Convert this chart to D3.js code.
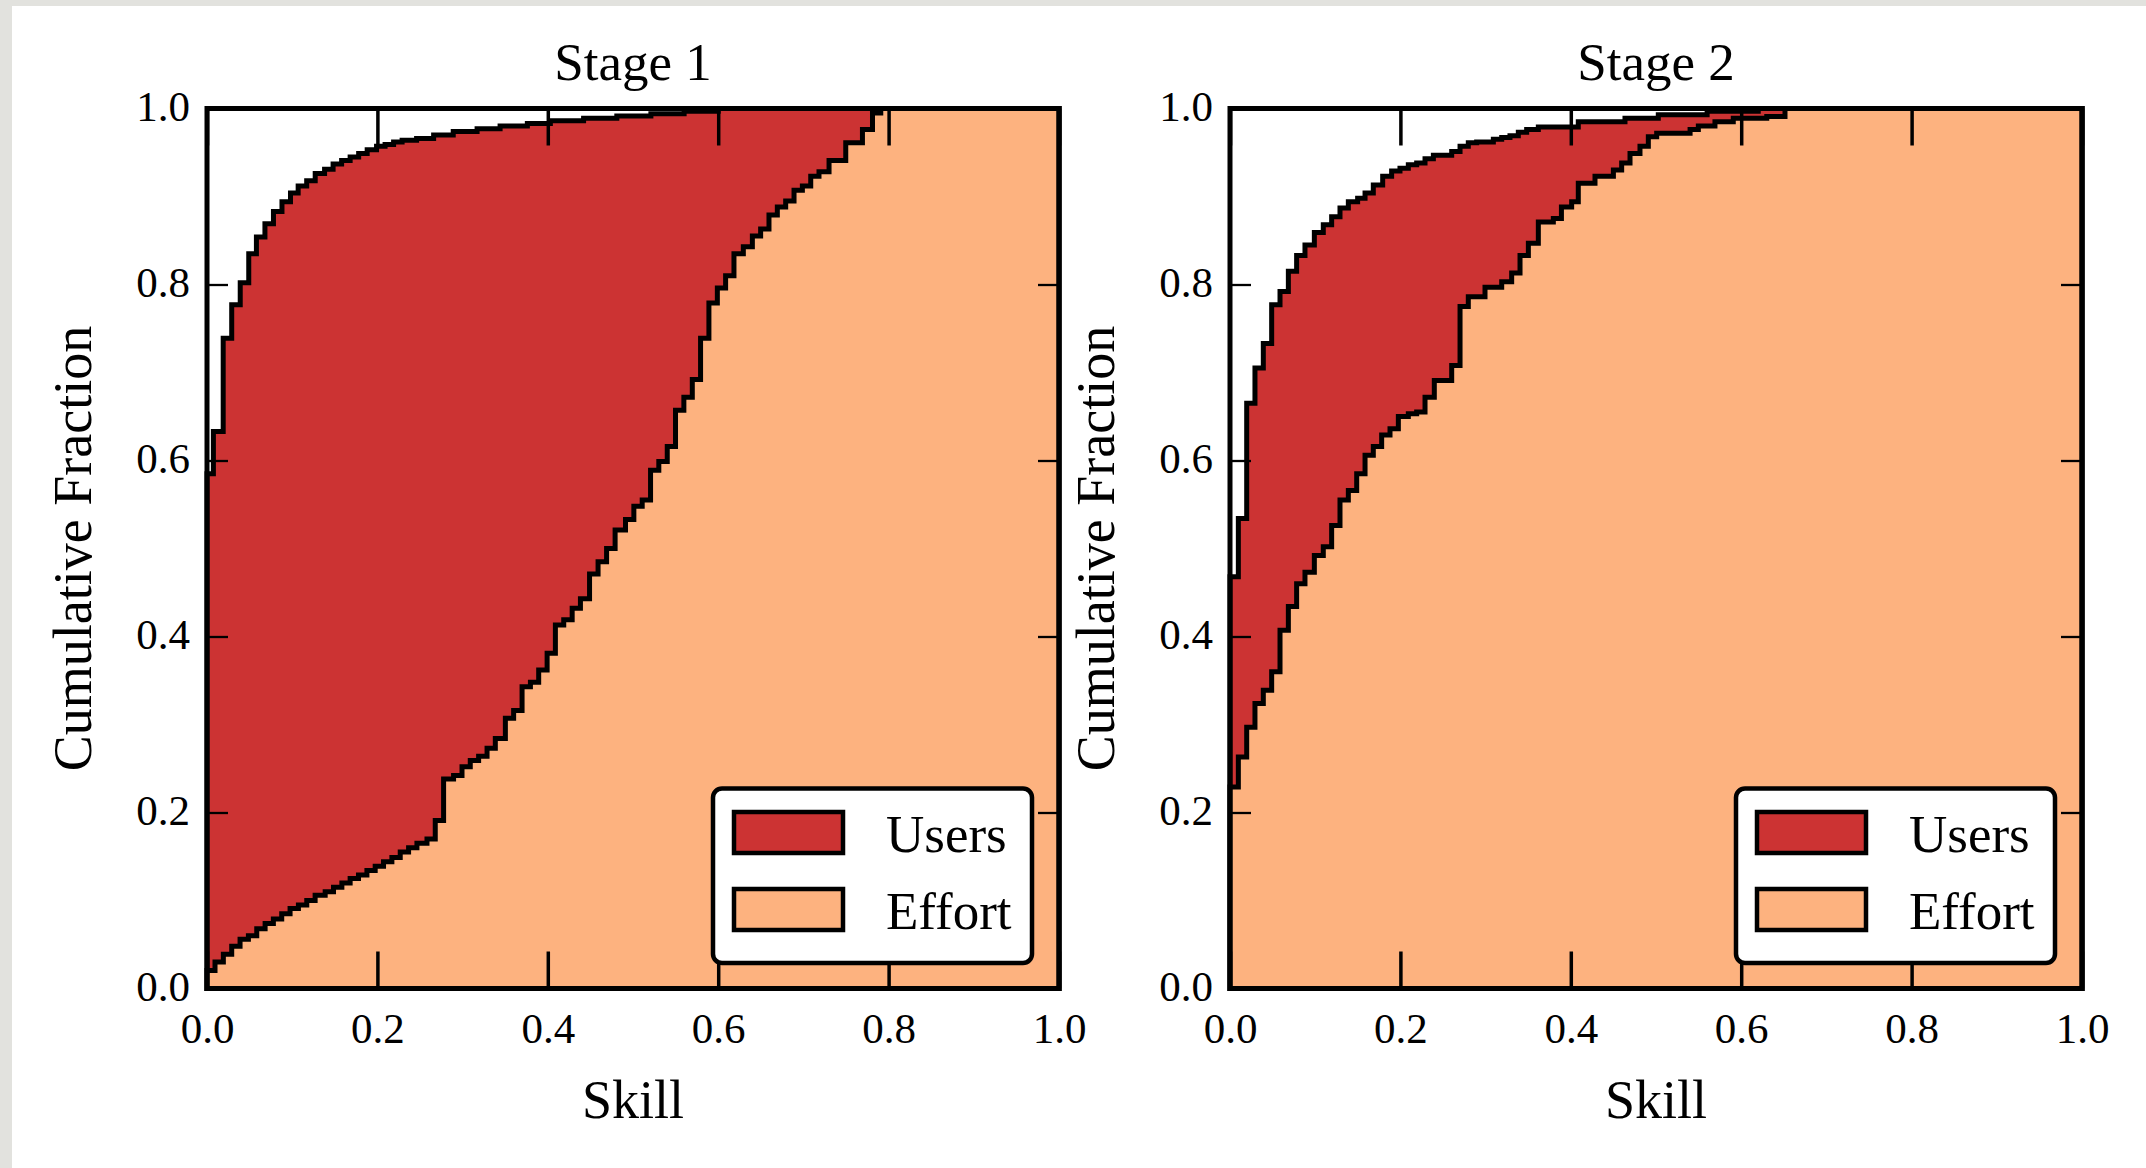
<!DOCTYPE html>
<html>
<head>
<meta charset="utf-8">
<script src="https://cdn.jsdelivr.net/npm/d3@7"></script>
<style>
body { margin: 0; background: #e2e2de; }
svg { display: block; }
text { font-family: "Liberation Serif", "Times New Roman", serif; fill: black; }
</style>
</head>
<body>
<div id="chart"></div>
<script>
// titles, labels, legend
const stageTitles = ["Stage 1", "Stage 2"]
const xLabel = "Skill"
const yLabel = "Cumulative Fraction"
const seriesNames = ["Users", "Effort"]
const seriesColors = ["#cc3333", "#fdb27f"]
const xTicks = [0, 0.2, 0.4, 0.6, 0.8, 1.0]
const yTicks = [0, 0.2, 0.4, 0.6, 0.8, 1.0]

// cumulative steps: [bin left edge (skill), cumulative fraction]
const stage1Users = [
  [0, 0.585], [0.0075, 0.633], [0.019, 0.739], [0.029, 0.777], [0.039, 0.802],
  [0.049, 0.835], [0.058, 0.854], [0.068, 0.869], [0.078, 0.883], [0.088, 0.894],
  [0.098, 0.904], [0.107, 0.912], [0.117, 0.918], [0.127, 0.926], [0.138, 0.931],
  [0.148, 0.937], [0.158, 0.941], [0.168, 0.945], [0.178, 0.949], [0.188, 0.953],
  [0.199, 0.957], [0.209, 0.959], [0.219, 0.962], [0.229, 0.964], [0.246, 0.966],
  [0.266, 0.970], [0.289, 0.974], [0.317, 0.977], [0.344, 0.980], [0.376, 0.983],
  [0.403, 0.986], [0.442, 0.989], [0.481, 0.9915], [0.521, 0.994], [0.560, 0.997],
  [0.600, 1.0]
]
const stage1Effort = [
  [0, 0.0205], [0.0094, 0.030], [0.0192, 0.039], [0.029, 0.048], [0.0388, 0.056],
  [0.0486, 0.060], [0.0584, 0.068], [0.0682, 0.074], [0.0779, 0.079], [0.0877, 0.085],
  [0.0975, 0.091], [0.1073, 0.095], [0.1171, 0.100], [0.1269, 0.106], [0.1387, 0.110],
  [0.1485, 0.115], [0.1583, 0.120], [0.168, 0.125], [0.1778, 0.129], [0.1877, 0.134],
  [0.1974, 0.139], [0.2072, 0.144], [0.217, 0.149], [0.2268, 0.155], [0.2366, 0.160],
  [0.2464, 0.165], [0.2582, 0.170], [0.2679, 0.191], [0.2777, 0.238], [0.2894, 0.242],
  [0.2993, 0.252], [0.309, 0.259], [0.3188, 0.264], [0.3287, 0.273], [0.3384, 0.284],
  [0.3502, 0.307], [0.3599, 0.316], [0.3698, 0.343], [0.3796, 0.348], [0.3893, 0.362],
  [0.3992, 0.381], [0.4089, 0.413], [0.4187, 0.419], [0.4286, 0.432], [0.4383, 0.443],
  [0.449, 0.471], [0.459, 0.485], [0.469, 0.500], [0.479, 0.521], [0.4912, 0.533],
  [0.501, 0.548], [0.5108, 0.555], [0.5206, 0.589], [0.5303, 0.599], [0.5402, 0.616],
  [0.5499, 0.657], [0.5597, 0.672], [0.5696, 0.692], [0.5793, 0.739], [0.5891, 0.779],
  [0.599, 0.796], [0.6087, 0.810], [0.6185, 0.835], [0.6295, 0.843], [0.6401, 0.855],
  [0.6498, 0.863], [0.6596, 0.879], [0.6694, 0.888], [0.6792, 0.895], [0.689, 0.907],
  [0.6988, 0.912], [0.7086, 0.923], [0.7183, 0.928], [0.7301, 0.941], [0.7497, 0.961],
  [0.7693, 0.976], [0.7811, 0.995], [0.7908, 1.0]
]
const stage2Users = [
  [0, 0.468], [0.0098, 0.534], [0.0196, 0.665], [0.0293, 0.705], [0.0391, 0.733],
  [0.0489, 0.777], [0.0587, 0.792], [0.0685, 0.815], [0.0782, 0.833], [0.088, 0.845],
  [0.099, 0.859], [0.1095, 0.868], [0.1193, 0.877], [0.1291, 0.887], [0.1389, 0.894],
  [0.1498, 0.898], [0.1585, 0.904], [0.1682, 0.913], [0.1792, 0.923], [0.1897, 0.929],
  [0.1995, 0.932], [0.2093, 0.936], [0.2191, 0.938], [0.2289, 0.943], [0.2387, 0.947],
  [0.2602, 0.951], [0.27, 0.957], [0.2797, 0.961], [0.2895, 0.962], [0.3091, 0.965],
  [0.3189, 0.967], [0.3286, 0.969], [0.3384, 0.973], [0.3482, 0.976], [0.3619, 0.979],
  [0.4088, 0.985], [0.4636, 0.989], [0.5027, 0.993], [0.56, 0.997], [0.62, 1.0]
]
const stage2Effort = [
  [0, 0.229], [0.0098, 0.263], [0.0196, 0.297], [0.0293, 0.324], [0.0391, 0.339],
  [0.0489, 0.360], [0.0587, 0.407], [0.0685, 0.434], [0.0782, 0.460], [0.088, 0.473],
  [0.099, 0.492], [0.1095, 0.502], [0.1193, 0.526], [0.1291, 0.555], [0.1389, 0.566],
  [0.1487, 0.585], [0.1585, 0.606], [0.1682, 0.616], [0.178, 0.629], [0.1878, 0.636],
  [0.1976, 0.650], [0.2093, 0.653], [0.2191, 0.655], [0.2289, 0.672], [0.2398, 0.691],
  [0.2602, 0.708], [0.27, 0.775], [0.2797, 0.786], [0.2993, 0.797], [0.3189, 0.803],
  [0.3306, 0.813], [0.3404, 0.833], [0.3502, 0.847], [0.3619, 0.871], [0.3795, 0.875],
  [0.389, 0.888], [0.401, 0.894], [0.4088, 0.915], [0.4284, 0.923], [0.45, 0.930],
  [0.4597, 0.938], [0.4695, 0.949], [0.4812, 0.957], [0.491, 0.968], [0.5008, 0.972],
  [0.54, 0.976], [0.5497, 0.980], [0.5692, 0.985], [0.5907, 0.989], [0.63, 0.991],
  [0.6514, 1.0]
]

const svgWidth = 2146
const svgHeight = 1168
const plotWidth = 852
const plotTop = 108.5
const plotBottom = 988.5

const svg = d3.select("#chart")
  .append("svg")
  .attr("width", svgWidth)
  .attr("height", svgHeight)

// slide background: grey paper edge with a white card
svg.append("rect")
  .attr("width", svgWidth)
  .attr("height", svgHeight)
  .attr("fill", "#e2e2de")
svg.append("rect")
  .attr("x", 12)
  .attr("y", 6)
  .attr("width", svgWidth - 12)
  .attr("height", svgHeight - 6)
  .attr("fill", "white")

const panels = [
  { title: stageTitles[0], series: [stage1Users, stage1Effort], left: 207 },
  { title: stageTitles[1], series: [stage2Users, stage2Effort], left: 1230 }
]

const stepLine = d3.line()
  .x((d) => d.x)
  .y((d) => d.y)
  .curve(d3.curveStepAfter)

function drawPanel(p) {
  const x = d3.scaleLinear().domain([0, 1]).range([p.left, p.left + plotWidth])
  const y = d3.scaleLinear().domain([0, 1]).range([plotBottom, plotTop])
  const g = svg.append("g")

  // stepfilled cumulative histograms, closed down to the x axis
  p.series.forEach((steps, i) => {
    const pts = [[0, 0], ...steps, [1, steps[steps.length - 1][1]], [1, 0]]
      .map((d) => ({ x: x(d[0]), y: y(d[1]) }))
    g.append("path")
      .attr("d", stepLine(pts) + "Z")
      .attr("fill", seriesColors[i])
      .attr("stroke", "black")
      .attr("stroke-width", 5)
      .attr("stroke-linejoin", "miter")
  })

  // inward ticks on all four sides
  const fmt = d3.format(".1f")
  const bottomAxis = g.append("g")
    .attr("transform", "translate(0," + plotBottom + ")")
    .call(d3.axisBottom(x).tickValues(xTicks).tickFormat(fmt).tickSizeInner(-37).tickSizeOuter(0).tickPadding(24))
  const topAxis = g.append("g")
    .attr("transform", "translate(0," + plotTop + ")")
    .call(d3.axisTop(x).tickValues(xTicks).tickFormat("").tickSizeInner(-37).tickSizeOuter(0))
  const leftAxis = g.append("g")
    .attr("transform", "translate(" + p.left + ",0)")
    .call(d3.axisLeft(y).tickValues(yTicks).tickFormat(fmt).tickSizeInner(-21).tickSizeOuter(0).tickPadding(17))
  const rightAxis = g.append("g")
    .attr("transform", "translate(" + (p.left + plotWidth) + ",0)")
    .call(d3.axisRight(y).tickValues(yTicks).tickFormat("").tickSizeInner(-21).tickSizeOuter(0))

  const allAxes = [bottomAxis, topAxis, leftAxis, rightAxis]
  allAxes.forEach((a) => {
    a.select(".domain").remove()
    a.selectAll("text").attr("font-size", 43).attr("fill", "black")
  })
  bottomAxis.selectAll("line").attr("stroke-width", 3.5)
  topAxis.selectAll("line").attr("stroke-width", 3.5)
  leftAxis.selectAll("line").attr("stroke-width", 2.3)
  rightAxis.selectAll("line").attr("stroke-width", 2.3)
  leftAxis.selectAll("text").attr("dy", "0.28em")

  // spines
  g.append("rect")
    .attr("x", p.left)
    .attr("y", plotTop)
    .attr("width", plotWidth)
    .attr("height", plotBottom - plotTop)
    .attr("fill", "none")
    .attr("stroke", "black")
    .attr("stroke-width", 5)

  const cx = p.left + plotWidth / 2

  g.append("text")
    .attr("x", cx)
    .attr("y", 80)
    .attr("text-anchor", "middle")
    .attr("font-size", 53)
    .text(p.title)

  g.append("text")
    .attr("x", cx)
    .attr("y", 1117.5)
    .attr("text-anchor", "middle")
    .attr("font-size", 54)
    .text(xLabel)

  g.append("text")
    .attr("transform", "translate(" + (p.left - 116) + "," + ((plotTop + plotBottom) / 2) + ") rotate(-90)")
    .attr("text-anchor", "middle")
    .attr("font-size", 54)
    .text(yLabel)

  // legend, lower right
  const legendW = 319
  const legendX = p.left + plotWidth - 27 - legendW
  const legendY = 788.5
  const legend = g.append("g").attr("transform", "translate(" + legendX + "," + legendY + ")")
  legend.append("rect")
    .attr("width", legendW)
    .attr("height", 174.5)
    .attr("rx", 9)
    .attr("fill", "white")
    .attr("stroke", "black")
    .attr("stroke-width", 4.5)
  seriesNames.forEach((name, i) => {
    legend.append("rect")
      .attr("x", 21)
      .attr("y", 23.5 + i * 77)
      .attr("width", 109)
      .attr("height", 41)
      .attr("fill", seriesColors[i])
      .attr("stroke", "black")
      .attr("stroke-width", 4.5)
    legend.append("text")
      .attr("x", 173)
      .attr("y", 63 + i * 77)
      .attr("font-size", 53)
      .text(name)
  })
}

panels.forEach(drawPanel)
</script>
</body>
</html>
